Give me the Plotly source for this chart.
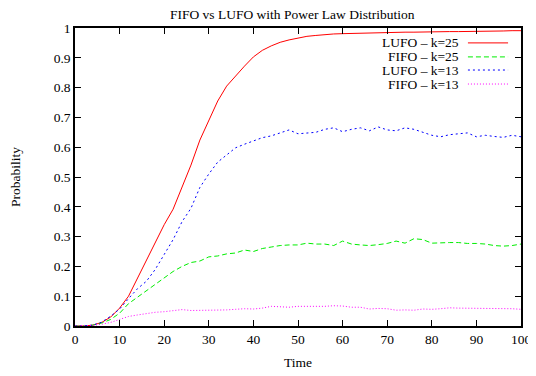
import plotly.graph_objects as go

time = list(range(0, 101, 2))

lufo_k25 = [0, 0, 0.003, 0.012, 0.03, 0.06, 0.1, 0.16, 0.225, 0.285, 0.34, 0.392, 0.465, 0.54, 0.624, 0.69,
            0.755, 0.805, 0.84, 0.872, 0.903, 0.925, 0.94, 0.952, 0.96, 0.967, 0.972, 0.975, 0.978, 0.98, 0.981,
            0.982, 0.983, 0.983, 0.984, 0.985, 0.985, 0.986, 0.986, 0.987, 0.987, 0.987, 0.988, 0.988, 0.988,
            0.989, 0.989, 0.989, 0.99, 0.991, 0.991]
fifo_k25 = [0, 0, 0.003, 0.01, 0.022, 0.043, 0.075, 0.097, 0.12, 0.142, 0.163, 0.183, 0.2, 0.213, 0.218, 0.232,
            0.235, 0.242, 0.245, 0.255, 0.25, 0.26, 0.265, 0.27, 0.272, 0.272, 0.278, 0.275, 0.275, 0.27, 0.285,
            0.275, 0.272, 0.27, 0.273, 0.277, 0.285, 0.278, 0.293, 0.29, 0.278, 0.28, 0.28, 0.28, 0.277, 0.277,
            0.275, 0.27, 0.268, 0.27, 0.275]
lufo_k13 = [0, 0, 0.003, 0.013, 0.033, 0.057, 0.092, 0.125, 0.15, 0.19, 0.24, 0.29, 0.35, 0.395, 0.465, 0.51,
            0.55, 0.575, 0.598, 0.61, 0.622, 0.632, 0.638, 0.648, 0.658, 0.645, 0.648, 0.65, 0.66, 0.665, 0.652,
            0.66, 0.665, 0.655, 0.668, 0.658, 0.655, 0.665, 0.66, 0.65, 0.64, 0.635, 0.642, 0.645, 0.648, 0.635,
            0.64, 0.636, 0.633, 0.64, 0.635]
fifo_k13 = [0, 0, 0.002, 0.006, 0.012, 0.022, 0.032, 0.037, 0.042, 0.046, 0.048, 0.052, 0.055, 0.052, 0.052, 0.054,
            0.053, 0.054, 0.056, 0.058, 0.057, 0.06, 0.066, 0.065, 0.063, 0.066, 0.066, 0.065, 0.066, 0.068, 0.067,
            0.063, 0.063, 0.057, 0.059, 0.058, 0.053, 0.054, 0.053, 0.057, 0.056, 0.058, 0.061, 0.06, 0.06, 0.06,
            0.058, 0.058, 0.06, 0.058, 0.056]

series = [
    ("LUFO \u2013 k=25", lufo_k25, "#ff0000", "solid"),
    ("FIFO \u2013 k=25", fifo_k25, "#00ee00", "5px,3px"),
    ("LUFO \u2013 k=13", lufo_k13, "#0000ff", "2px,3px"),
    ("FIFO \u2013 k=13", fifo_k13, "#ff00ff", "1px,2px"),
]

FONT = "Liberation Serif"
fig = go.Figure()
for name, vals, color, dash in series:
    fig.add_trace(go.Scatter(x=time, y=vals, mode="lines", name=name,
                             line=dict(color=color, width=1, dash=dash)))

# manual gnuplot-style legend (text right-aligned, sample line to the right)
legend_y = [0.95, 0.903, 0.859, 0.812]
for (name, vals, color, dash), ly in zip(series, legend_y):
    fig.add_annotation(x=0.866, y=ly, xref="paper", yref="paper", text=name, showarrow=False,
                       xanchor="right", yanchor="middle", font=dict(family=FONT, size=13.5, color="black"))
    fig.add_shape(type="line", xref="paper", yref="paper", x0=0.881, x1=0.971, y0=ly, y1=ly,
                  line=dict(color=color, width=1, dash=dash))

axis_common = dict(showline=True, mirror="ticks", linecolor="black", linewidth=1.5,
                   ticks="inside", ticklen=6, tickcolor="black", tickwidth=1,
                   showgrid=False, zeroline=False, automargin=False,
                   tickfont=dict(family=FONT, size=13.5, color="black"))

fig.update_layout(
    width=536, height=376,
    margin=dict(l=67, r=23, t=20, b=58),
    paper_bgcolor="white", plot_bgcolor="white",
    showlegend=False,
    title=dict(text="FIFO vs LUFO with Power Law Distribution", x=0.487, xanchor="center",
               xref="paper", y=0.995, yref="container", yanchor="top", pad=dict(t=0, b=0),
               font=dict(family=FONT, size=13.5, color="black")),
    xaxis=dict(range=[0, 100], dtick=10, title=dict(text="Time", standoff=12,
               font=dict(family=FONT, size=13.5, color="black")), **axis_common),
    yaxis=dict(range=[0, 1], dtick=0.1, title=dict(text="Probability", standoff=30,
               font=dict(family=FONT, size=13.5, color="black")), **axis_common),
)

fig.write_html("out.html")
